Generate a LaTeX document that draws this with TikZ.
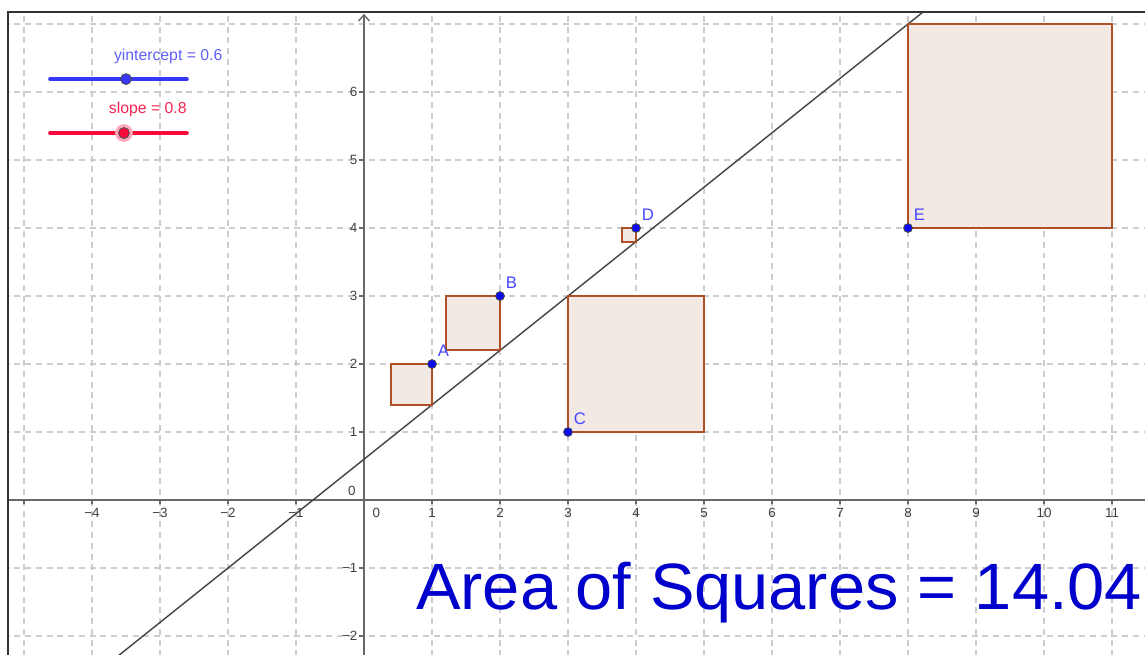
\documentclass[tikz,border=0pt]{standalone}
\usepackage{fontspec}
\setmainfont{Liberation Sans}
\usetikzlibrary{positioning,arrows.meta}
\definecolor{gridgray}{RGB}{205,205,205}
\definecolor{axisgray}{RGB}{105,105,105}
\definecolor{sqfill}{RGB}{243,233,228}
\definecolor{sqdraw}{RGB}{175,80,40}
\definecolor{ptblue}{RGB}{10,10,235}
\definecolor{lblblue}{RGB}{70,70,255}
\definecolor{areablue}{RGB}{0,0,204}
\definecolor{sldblue}{RGB}{55,55,245}
\definecolor{sldred}{RGB}{250,10,60}
\begin{document}
\begin{tikzpicture}[>=stealth,
    sq/.style={draw=sqdraw,fill=sqfill,line width=0.8pt},
    pt/.style={circle,fill=ptblue,draw=black!70,line width=0.35pt,inner sep=0pt,minimum size=1.3mm},
    ptlabel/.style={text=lblblue,inner sep=0pt,font=\fontsize{7}{8}\selectfont},
    ticklabel/.style={text=black!75,inner sep=0pt,font=\fontsize{5.6}{6}\selectfont},
    slider/.style={line width=1.5pt,line cap=round}]
    \useasboundingbox (-5.353,-2.265) rectangle (11.485,7.353);
    \begin{scope}
        \clip (-5.235,-2.265) rectangle (11.485,7.176);
        % grid
        \foreach \x in {-5,...,11}
            \draw[gridgray,line width=0.5pt,dash pattern=on 2.5pt off 2pt] (\x,-2.3) -- (\x,7.2);
        \foreach \y in {-2,...,7}
            \draw[gridgray,line width=0.5pt,dash pattern=on 2.5pt off 2pt] (-5.3,\y) -- (11.5,\y);
        % axes
        \draw[axisgray,line width=0.6pt] (-5.3,0) -- (11.5,0);
        \draw[axisgray,line width=0.6pt,-{Straight Barb[length=0.9mm,width=1.6mm]}] (0,-2.3) -- (0,7.15);
        \foreach \x in {-5,...,11}
            \draw[axisgray,line width=0.5pt] (\x,0.02) -- (\x,-0.06);
        \foreach \y in {-2,...,6}
            \draw[axisgray,line width=0.5pt] (-0.07,\y) -- (0.02,\y);
        % regression line
        \draw[black!75,line width=0.6pt] (-3.7,-2.36) -- (8.4,7.32);
        % squares of the residuals
        \foreach \xa/\ya/\xb/\yb in {0.4/1.4/1/2, 1.2/2.2/2/3, 3/1/5/3, 3.8/3.8/4/4, 8/4/11/7}
            \draw[sq] (\xa,\ya) rectangle (\xb,\yb);
    \end{scope}
    % frame
    \draw[black!80,line width=0.5pt] (-5.235,-2.3) -- (-5.235,7.176) -- (11.5,7.176);
    % tick labels
    \foreach \x in {1,...,4}
        \node[ticklabel] at (-\x,-0.19) {−\x};
    \foreach \x in {1,...,11}
        \node[ticklabel] at (\x,-0.19) {\x};
    \node[ticklabel] at (0.18,-0.19) {0};
    \foreach \y in {1,...,6}
        \node[ticklabel,anchor=east] at (-0.09,\y) {\y};
    \foreach \y in {1,2}
        \node[ticklabel,anchor=east] at (-0.09,-\y) {−\y};
    \node[ticklabel] at (-0.18,0.13) {0};
    % data points
    \node[pt] (A) at (1,2) {};
    \node[pt] (B) at (2,3) {};
    \node[pt] (C) at (3,1) {};
    \node[pt] (D) at (4,4) {};
    \node[pt] (E) at (8,4) {};
    \foreach \p in {A,B,C,D,E}
        \node[ptlabel,above right=0.05cm and 0.03cm of \p] {\p};
    % sliders
    \draw[slider,sldblue] (-4.618,6.19) -- (-2.603,6.19);
    \node[pt,fill=sldblue,minimum size=1.6mm] (yint) at (-3.5,6.19) {};
    \node[text=sldblue!80,font=\fontsize{6.6}{8}\selectfont] (yintlabel) at (-2.88,6.53) {yintercept = 0.6};
    \draw[slider,sldred] (-4.618,5.397) -- (-2.603,5.397);
    \fill[sldred!35] (-3.53,5.397) circle (0.13);
    \node[pt,fill=sldred,minimum size=1.6mm] (slope) at (-3.53,5.397) {};
    \node[text=sldred!90,font=\fontsize{6.6}{8}\selectfont] (slopelabel) at (-3.18,5.74) {slope = 0.8};
    % area
    \node[text=areablue,anchor=base west,inner sep=0pt,xscale=1.02,font=\fontsize{27.4}{30}\selectfont] (area) at (0.76,-1.603) {Area of Squares = 14.04};
\end{tikzpicture}
\end{document}
